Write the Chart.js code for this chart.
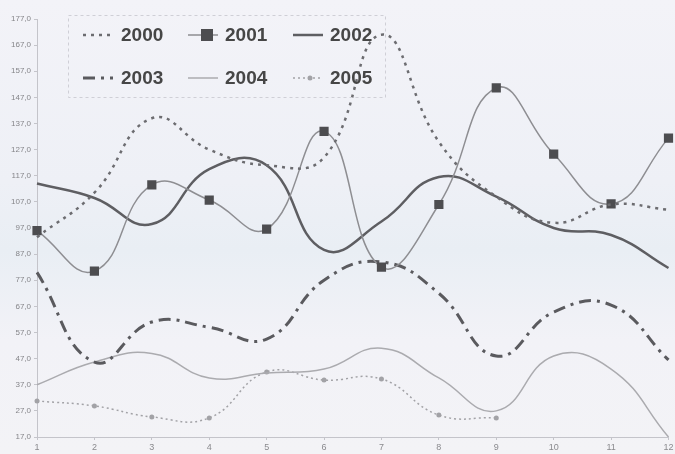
<!DOCTYPE html>
<html>
<head>
<meta charset="utf-8">
<script src="https://cdn.jsdelivr.net/npm/chart.js@4.4.0/dist/chart.umd.min.js"></script>
<style>
  html, body { margin: 0; padding: 0; }
  body {
    width: 675px; height: 454px; overflow: hidden;
    background: linear-gradient(to bottom, #f3f3f8 0%, #eef0f6 40%, #e9eef4 55%, #f2f2f7 75%, #f3f3f6 100%);
  }
  #wrap { position: relative; width: 675px; height: 454px; }
</style>
</head>
<body>
<div id="wrap"><canvas id="chart"></canvas></div>
<script>
// x categories and y ticks
const months = ['1', '2', '3', '4', '5', '6', '7', '8', '9', '10', '11', '12']
const yMin = 17
const yMax = 177
const yStep = 10

// one array per year
const s2000 = [93.5, 110.5, 139, 127, 121, 124, 171, 130, 109, 99, 106, 104]
const s2001 = [96, 80.5, 113.5, 107.7, 96.6, 134, 82, 106, 150.6, 125.3, 106.2, 131.4]
const s2002 = [114, 108.5, 98.5, 119.5, 121, 88.6, 99.5, 116.5, 109, 97, 94.3, 81.7]
const s2003 = [80, 45.7, 61, 59, 54.5, 77, 84, 72, 48, 64.8, 67.5, 46.5]
const s2004 = [37, 45.7, 49, 39.6, 41.5, 43, 51, 39.6, 27, 48, 43, 17]
const s2005 = [30.8, 28.9, 24.7, 24.3, 41.9, 38.8, 39.2, 25.4, 24.3, null, null, null]

const seriesNames = ['2000', '2001', '2002', '2003', '2004', '2005']

function line(label, data, color, width, dash, extra){
    let ds = {
        label: label,
        data: data,
        borderColor: color,
        backgroundColor: color,
        borderWidth: width,
        borderDash: dash,
        tension: 0.45,
        pointRadius: 0,
        fill: false
    }
    return Object.assign(ds, extra || {})
}

// legend drawn inside the plot, two rows of three
const boxLegend = {
    id: 'boxLegend',
    afterDraw(chart){
        const ctx = chart.ctx
        const sampleX = [83, 188, 293]
        const textX = [121, 225, 330]
        const rowY = [35, 78]
        ctx.save()
        ctx.strokeStyle = '#cfcfd6'
        ctx.lineWidth = 1
        ctx.setLineDash([3, 3])
        ctx.strokeRect(68.5, 15.5, 317, 82)
        chart.data.datasets.forEach(function(ds, i){
            let x = sampleX[i % 3], y = rowY[Math.floor(i / 3)]
            ctx.strokeStyle = ds.borderColor
            ctx.lineWidth = ds.borderWidth
            ctx.setLineDash(ds.borderDash || [])
            ctx.beginPath()
            ctx.moveTo(x, y)
            ctx.lineTo(x + 30, y)
            ctx.stroke()
            ctx.setLineDash([])
            if (ds.pointStyle == 'rect') {
                ctx.fillStyle = ds.pointBackgroundColor
                ctx.fillRect(x + 13, y - 6, 12, 12)
            } else if (ds.pointRadius > 0) {
                ctx.fillStyle = ds.pointBackgroundColor
                ctx.beginPath()
                ctx.arc(x + 17, y, 2.5, 0, Math.PI * 2)
                ctx.fill()
            }
            ctx.fillStyle = '#464646'
            ctx.font = 'bold 19px "Liberation Sans", Arial, sans-serif'
            ctx.textBaseline = 'middle'
            ctx.fillText(ds.label, textX[i % 3], y + 1)
        })
        ctx.restore()
    }
}

const ctx = document.getElementById('chart')
ctx.width = 675
ctx.height = 454
new Chart(ctx, {
    type: 'line',
    data: {
        labels: months,
        datasets: [
            line(seriesNames[0], s2000, '#6c6c70', 2.5, [3, 5]),
            line(seriesNames[1], s2001, '#8e8e92', 1.5, [], {
                pointStyle: 'rect', pointRadius: 6.5, pointBackgroundColor: '#4d4d50',
                pointBorderColor: '#4d4d50', pointBorderWidth: 0
            }),
            line(seriesNames[2], s2002, '#5e5e62', 2.5, []),
            line(seriesNames[3], s2003, '#5a5a5e', 3, [12, 6, 3, 6]),
            line(seriesNames[4], s2004, '#ababaf', 1.5, []),
            line(seriesNames[5], s2005, '#a2a2a6', 1.5, [2, 3], {
                pointRadius: 2.5, pointBackgroundColor: '#a2a2a6', pointBorderWidth: 0
            })
        ]
    },
    options: {
        responsive: false,
        animation: false,
        layout: { padding: { top: 19, right: 3, left: 0, bottom: 0 } },
        plugins: {
            legend: { display: false },
            tooltip: { enabled: false }
        },
        scales: {
            x: {
                offset: false,
                border: { display: true, color: '#c4c4ca', dash: [5, 3] },
                grid: { drawOnChartArea: false, drawTicks: true, tickLength: 3, color: '#c4c4ca' },
                ticks: { color: '#8a8a8e', font: { size: 9, family: 'Arial' }, padding: 2, maxRotation: 0, autoSkip: false },
                afterFit: function(scale){ scale.height = 17; scale.paddingLeft = 0; scale.paddingRight = 0 }
            },
            y: {
                min: yMin,
                max: yMax,
                border: { display: true, color: '#c4c4ca', dash: [4, 3] },
                grid: { drawOnChartArea: false, drawTicks: true, tickLength: 3, color: '#c4c4ca' },
                ticks: {
                    stepSize: yStep,
                    color: '#858589',
                    font: { size: 8, family: 'Arial' },
                    padding: 3,
                    callback: function(v){ return v.toFixed(1).replace('.', ',') }
                },
                afterFit: function(scale){ scale.width = 37; scale.paddingTop = 0; scale.paddingBottom = 0 }
            }
        }
    },
    plugins: [boxLegend]
});
</script>
</body>
</html>
